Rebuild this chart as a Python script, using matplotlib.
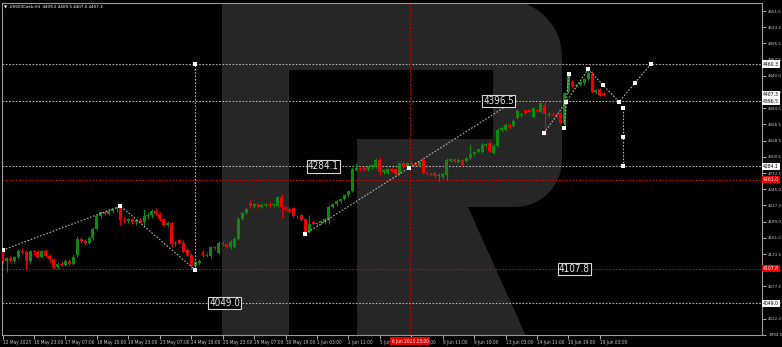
import matplotlib
matplotlib.use('Agg')
import matplotlib.pyplot as plt
from matplotlib import font_manager
from matplotlib.font_manager import FontProperties
from matplotlib.textpath import TextPath
from matplotlib.patches import Polygon, Rectangle
from matplotlib.transforms import blended_transform_factory
import numpy as np

# ---------------- data ----------------
opens = [4140,4122,4126,4121,4128,4139,4137,4121,4138,4136,
         4129,4139,4130,4124,4111,4117,4115,4121,4116,4131,
         4160,4155,4153,4161,4177,4199,4205,4202,4208,4211,
         4213,4192,4190,4194,4188,4192,4188,4198,4201,4207,
         4202,4193,4184,4186,4150,4157,4152,4140,4132,4112,
         4118,4137,4132,4130,4145,4135,4152,4150,4145,4146,
         4160,4194,4204,4222,4216,4219,4215,4218,4219,4217,
         4216,4232,4214,4211,4212,4198,4200,4193,4172,4188,
         4185,4186,4188,4192,4214,4219,4225,4228,4235,4242,
         4278,4281,4281,4278,4283,4283,4295,4274,4273,4280,
         4279,4271,4290,4283,4290,4290,4285,4295,4273,4271,
         4273,4267,4266,4269,4293,4296,4292,4295,4293,4298,
         4305,4309,4309,4321,4324,4307,4320,4347,4347,4356,
         4354,4367,4372,4381,4381,4369,4381,4378,4390,4372,
         4375,4374,4376,4359,4412,4429,4422,4424,4427,4434,
         4443,4412,4417,4410]
highs = [4145,4128,4130,4130,4142,4143,4141,4140,4141,4140,
         4141,4142,4134,4127,4119,4121,4124,4125,4131,4164,
         4163,4159,4164,4180,4202,4208,4209,4210,4213,4216,
         4216,4198,4196,4196,4194,4195,4210,4205,4210,4212,
         4206,4196,4190,4190,4156,4160,4158,4143,4135,4121,
         4125,4140,4136,4148,4148,4155,4156,4152,4158,4162,
         4197,4206,4213,4226,4222,4221,4220,4222,4223,4222,
         4234,4236,4216,4214,4214,4201,4203,4195,4200,4190,
         4189,4192,4195,4217,4221,4227,4230,4237,4244,4283,
         4290,4285,4284,4285,4288,4298,4300,4280,4281,4283,
         4282,4292,4293,4292,4293,4294,4293,4298,4276,4274,
         4276,4272,4274,4298,4298,4298,4298,4297,4300,4322,
         4311,4316,4324,4325,4327,4323,4350,4354,4358,4359,
         4366,4383,4376,4383,4383,4386,4383,4395,4396,4377,
         4377,4376,4379,4412,4445,4432,4426,4431,4436,4452,
         4448,4418,4419,4412]
lows = [4118,4102,4119,4118,4125,4134,4106,4118,4132,4126,
        4126,4128,4120,4107,4108,4113,4112,4113,4114,4129,
        4152,4149,4150,4158,4175,4195,4199,4200,4204,4206,
        4183,4187,4186,4185,4183,4186,4180,4194,4196,4200,
        4191,4182,4180,4146,4147,4150,4135,4130,4108,4106,
        4114,4129,4128,4127,4141,4133,4148,4143,4142,4144,
        4158,4192,4202,4212,4213,4212,4212,4214,4215,4214,
        4214,4195,4208,4204,4196,4195,4190,4168,4170,4183,
        4182,4184,4185,4185,4212,4216,4222,4226,4232,4240,
        4276,4277,4276,4276,4280,4281,4270,4271,4271,4275,
        4269,4269,4281,4281,4286,4283,4283,4271,4269,4267,
        4264,4259,4263,4260,4291,4290,4290,4285,4291,4296,
        4302,4307,4307,4318,4309,4305,4318,4344,4345,4349,
        4352,4365,4369,4373,4376,4367,4377,4376,4341,4369,
        4371,4367,4357,4350,4410,4419,4420,4422,4425,4432,
        4410,4409,4405,4406]
closes = [4122,4126,4121,4128,4139,4137,4121,4138,4136,4129,
          4139,4130,4124,4111,4117,4115,4121,4116,4129,4160,
          4155,4153,4161,4177,4199,4205,4202,4208,4211,4213,
          4192,4190,4194,4188,4192,4188,4198,4201,4207,4202,
          4193,4184,4186,4150,4153,4152,4137,4132,4112,4119,
          4121,4132,4130,4145,4143,4152,4150,4145,4154,4160,
          4194,4204,4211,4216,4219,4215,4218,4219,4217,4220,
          4232,4214,4211,4207,4198,4199,4192,4171,4185,4185,
          4186,4190,4193,4214,4219,4225,4228,4235,4242,4280,
          4281,4279,4278,4283,4286,4295,4274,4278,4279,4277,
          4271,4290,4283,4290,4288,4285,4291,4273,4271,4269,
          4267,4270,4271,4295,4296,4292,4295,4287,4298,4305,
          4309,4314,4321,4322,4311,4320,4347,4351,4356,4352,
          4363,4380,4374,4376,4378,4384,4379,4393,4374,4375,
          4373,4369,4359,4410,4441,4422,4424,4429,4434,4445,
          4412,4416,4407,4407.3]

# time axis labels (every 8 H4 bars)
xtick_bars = [0, 8, 16, 24, 32, 40, 48, 56, 64, 72, 80, 88, 96, 104, 112, 120, 128, 136, 144, 152]
xtick_labels = ['12 May 2023', '15 May 23:00', '17 May 07:00', '18 May 15:00', '19 May 23:00',
                '23 May 07:00', '24 May 15:00', '25 May 23:00', '29 May 07:00', '30 May 19:00',
                '1 Jun 03:00', '2 Jun 11:00', '5 Jun 19:00', '7 Jun 03:00', '8 Jun 11:00',
                '9 Jun 19:00', '13 Jun 03:00', '14 Jun 11:00', '15 Jun 19:00', '19 Jun 03:00']
ytick_vals = [3994.0 + k * 27.875 for k in range(21)]
ytick_labels = ['3994.0', '4022.0', '4049.5', '4077.5', '4105.5', '4133.5', '4161.0', '4189.0',
                '4217.0', '4245.0', '4272.5', '4300.5', '4328.5', '4356.5', '4384.0', '4412.0',
                '4440.0', '4467.5', '4495.5', '4523.5', '4551.5']

# analysis levels
white_levels = [4460.3, 4396.5, 4284.1, 4049.0]
red_levels = [4261.0, 4107.8]
crosshair_bar = 103.7
crosshair_label = '6 Jun 2023 23:00'
current_price = 4407.3
title = '\u25bc .US500Cash,H4  4409.2 4409.5 4407.0 4407.3'

# wave / projection paths (bar, price)
wave1_x = [0, 30, 49]
wave1_y = [4140, 4216, 4106]
vert1_x = [49, 49]
vert1_y = [4106, 4460.3]
trend_x = [77, 103.4, 130.2]
trend_y = [4168, 4281.4, 4396.5]
legA_x = [137.8, 143.4, 149.0]
legA_y = [4341.6, 4394.9, 4451.7]
legB_x = [142.9, 144.1]
legB_y = [4350.2, 4443.1]
proj_x = [149.0, 152.8, 156.9, 160.9, 165.0]
proj_y = [4451.7, 4424.2, 4394.9, 4427.6, 4460.3]
vert2_x = [157.9, 157.9, 157.9]
vert2_y = [4384.6, 4334.7, 4284.8]

# chart labels: (text, bar, price, alignment)
chart_labels = [('4396.5', 130.2, 4396.5, 'right'),
                ('4284.1', 85.6, 4284.1, 'right'),
                ('4107.8', 141.6, 4107.8, 'left'),
                ('4049.0', 52.6, 4049.0, 'left')]

# ---------------- fonts ----------------
def pick_font():
    fl = font_manager.fontManager.ttflist
    for f in fl:
        if f.name == 'Liberation Sans Narrow':
            return FontProperties(family='Liberation Sans Narrow')
    for f in fl:
        if f.name == 'DejaVu Sans' and str(f.stretch) in ('condensed', 'semi-condensed', '700', '600'):
            return FontProperties(family='DejaVu Sans', stretch='condensed')
    return FontProperties(family='Liberation Sans')

FP = pick_font()

def size_for(text, px, fp=FP):
    w = TextPath((0, 0), text, size=10, prop=fp).get_extents().width
    return px * 0.72 * 10 / w

def fp_at(size, fp=FP):
    f = fp.copy()
    f.set_size(size)
    return f

AX_FS = size_for('12 May 2023', 27)
Y_FS = size_for('4551.5', 13.5)
BOX_FS = size_for('4460.3', 15.5)
LBL_FS = size_for('4049.0', 30)
TITLE_FS = size_for(title, 100, FontProperties(family='DejaVu Sans'))

W, H = 782, 347
BG = 'black'
GREEN = '#0a8c0a'
RED = '#f00000'
DOT = '#b4b4b4'
WM = '#262626'
AXC = '#c8c8c8'

fig = plt.figure(figsize=(W / 100, H / 100), dpi=100, facecolor=BG)

# watermark "R" drawn in pixel space behind the chart
bg = fig.add_axes([0, 0, 1, 1])
bg.set_xlim(0, W)
bg.set_ylim(H, 0)
bg.axis('off')

def arc(cx, cy, r, a0, a1, n=24):
    t = np.radians(np.linspace(a0, a1, n))
    return list(zip(cx + r * np.cos(t), cy + r * np.sin(t)))

clip = Rectangle((2, 3), 760, 332, transform=bg.transData)
body = ([(222, 0)] + arc(505, 57, 57, -90, 0) + arc(515, 160, 47, 0, 90) +
        [(357, 207), (357, 139), (493, 139), (493, 70), (289, 70), (289, 345), (222, 345)])
leg = [(357, 207), (468, 207), (530, 345), (357, 345)]
for pts in (body, leg):
    p = Polygon(pts, closed=True, fc=WM, ec='none')
    bg.add_patch(p)
    p.set_clip_path(clip)

ax = fig.add_axes([2 / W, (H - 335) / H, 760 / W, 332 / H])
ax.set_facecolor('none')
ax.set_xlim(-0.15, 193.25)
ax.set_ylim(3994.0, 4565.3)
for s in ax.spines.values():
    s.set_color('#9a9a9a')
    s.set_linewidth(0.8)

idx = np.arange(len(closes))
o = np.array(opens, float); c = np.array(closes, float)
hi = np.array(highs, float); lo = np.array(lows, float)
cols = [GREEN if cc >= oo else RED for oo, cc in zip(o, c)]
ax.vlines(idx, lo, hi, colors=cols, lw=0.8, zorder=3)
bottoms = np.minimum(o, c)
heights = np.maximum(np.abs(c - o), 1.0)
ax.bar(idx, heights, bottom=bottoms, width=0.76, color=cols, linewidth=0, zorder=4)

dots = (0, (1.5, 1.5))
for lv in white_levels:
    ax.axhline(lv, color=DOT, lw=0.8, ls=dots, zorder=2)
for lv in red_levels:
    ax.axhline(lv, color='#d00000', lw=0.8, ls=dots, zorder=2)
ax.axvline(crosshair_bar, color='#d00000', lw=0.8, ls=dots, zorder=2)

for xs, ys in ((wave1_x, wave1_y), (vert1_x, vert1_y), (trend_x, trend_y),
               (legA_x, legA_y), (legB_x, legB_y), (proj_x, proj_y), (vert2_x, vert2_y)):
    ax.plot(xs, ys, color=DOT, lw=0.8, ls=dots, zorder=5)
    ax.plot(xs, ys, ls='none', marker='s', ms=2.2, mfc='white', mec='white', mew=0, zorder=6)

for txt, bx, py, ha in chart_labels:
    ax.text(bx, py, txt, ha=ha, va='center', fontproperties=fp_at(LBL_FS), color='#e8e8e8', zorder=7,
            bbox=dict(boxstyle='square,pad=0.12', fc='black', ec='#d8d8d8', lw=0.8))

# axes ticks
ax.yaxis.tick_right()
ax.set_yticks(ytick_vals)
ax.set_yticklabels(ytick_labels, fontproperties=fp_at(Y_FS))
ax.tick_params(axis='y', direction='out', length=3, width=0.6, colors=AXC, pad=1.5)
ax.set_xticks(xtick_bars)
ax.set_xticklabels(xtick_labels, fontproperties=fp_at(AX_FS), ha='left')
ax.tick_params(axis='x', direction='out', length=3, width=0.6, colors=AXC, pad=0.8)

# right-axis value boxes
tr = blended_transform_factory(ax.transAxes, ax.transData)
for lv in white_levels + [current_price]:
    ax.text(1.0015, lv, f'{lv:.1f}', transform=tr, ha='left', va='center',
            fontproperties=fp_at(BOX_FS), color='black', zorder=8,
            bbox=dict(boxstyle='square,pad=0.2', fc='white', ec='none'))
for lv in red_levels:
    ax.text(1.0015, lv, f'{lv:.1f}', transform=tr, ha='left', va='center',
            fontproperties=fp_at(BOX_FS), color='white', zorder=8,
            bbox=dict(boxstyle='square,pad=0.2', fc='#ee0000', ec='none'))

# crosshair time box
trx = blended_transform_factory(ax.transData, ax.transAxes)
ax.text(crosshair_bar, -0.0185, crosshair_label, transform=trx, ha='center', va='center',
        fontproperties=fp_at(AX_FS), color='white', zorder=9,
        bbox=dict(boxstyle='square,pad=0.25', fc='#ee0000', ec='none'))

fig.text(4 / W, 1 - 6.5 / H, title, fontsize=TITLE_FS, color='white', va='center',
         family=['DejaVu Sans'])

fig.savefig('out.png', dpi=100, facecolor=BG)
